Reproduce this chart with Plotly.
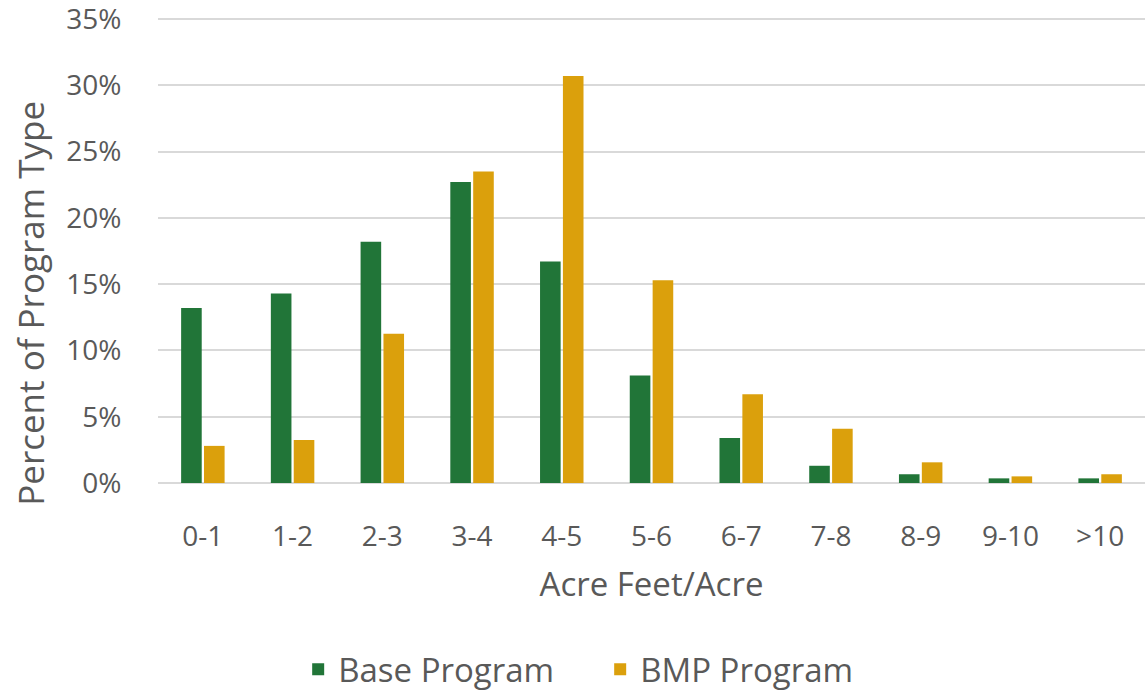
import plotly.graph_objects as go

categories = ["0-1", "1-2", "2-3", "3-4", "4-5", "5-6", "6-7", "7-8", "8-9", "9-10", ">10"]
base_program = [13.2, 14.3, 18.2, 22.7, 16.7, 8.1, 3.4, 1.3, 0.66, 0.35, 0.35]
bmp_program = [2.8, 3.25, 11.25, 23.5, 30.7, 15.3, 6.7, 4.1, 1.56, 0.5, 0.66]
y_ticks = [0, 5, 10, 15, 20, 25, 30, 35]
y_tick_labels = ["0%", "5%", "10%", "15%", "20%", "25%", "30%", "35%"]

GREEN = "#217538"
GOLD = "#DBA00C"
TEXT = "#595959"
FONT = "Open Sans"

fig = go.Figure()
fig.add_trace(go.Bar(x=categories, y=base_program, name="Base Program",
                     marker=dict(color=GREEN, line=dict(width=0))))
fig.add_trace(go.Bar(x=categories, y=bmp_program, name="BMP Program",
                     marker=dict(color=GOLD, line=dict(width=0))))

fig.update_layout(
    width=1145, height=691,
    margin=dict(l=158, r=0, t=17, b=208, autoexpand=False),
    paper_bgcolor="white", plot_bgcolor="white",
    barmode="group", bargap=0.49, bargroupgap=0.1,
    font=dict(family=FONT, color=TEXT),
    showlegend=True,
    legend=dict(orientation="h", x=0.448, xanchor="center", y=-0.40, yanchor="middle",
                font=dict(size=33, color=TEXT, family=FONT), itemwidth=30,
                entrywidth=257, entrywidthmode="pixels",
                traceorder="normal"),
    hovermode=False,
    annotations=[dict(text="Percent of Program Type", xref="paper", yref="paper",
                      x=-0.13, y=0.386, xanchor="center", yanchor="middle",
                      textangle=-90, showarrow=False,
                      font=dict(size=35, color=TEXT, family=FONT))],
)
fig.update_xaxes(
    showgrid=False, showline=False, zeroline=False,
    ticks="outside", ticklen=28, tickcolor="rgba(0,0,0,0)",
    tickfont=dict(size=28, color=TEXT, family=FONT),
    title=dict(text="Acre Feet/Acre", font=dict(size=33, color=TEXT, family=FONT), standoff=20),
    fixedrange=True,
)
fig.update_yaxes(
    range=[0, 35.15], tickvals=y_ticks, ticktext=y_tick_labels,
    showgrid=True, gridcolor="#D9D9D9", gridwidth=2,
    zeroline=True, zerolinecolor="#D9D9D9", zerolinewidth=2,
    showline=False, ticks="outside", ticklen=30, tickcolor="rgba(0,0,0,0)",
    tickfont=dict(size=28, color=TEXT, family=FONT),
    ticklabeloverflow="allow",
    fixedrange=True,
)

fig.write_html("out.html", config={"displayModeBar": False},
               post_script="document.body.style.margin='0px';")
